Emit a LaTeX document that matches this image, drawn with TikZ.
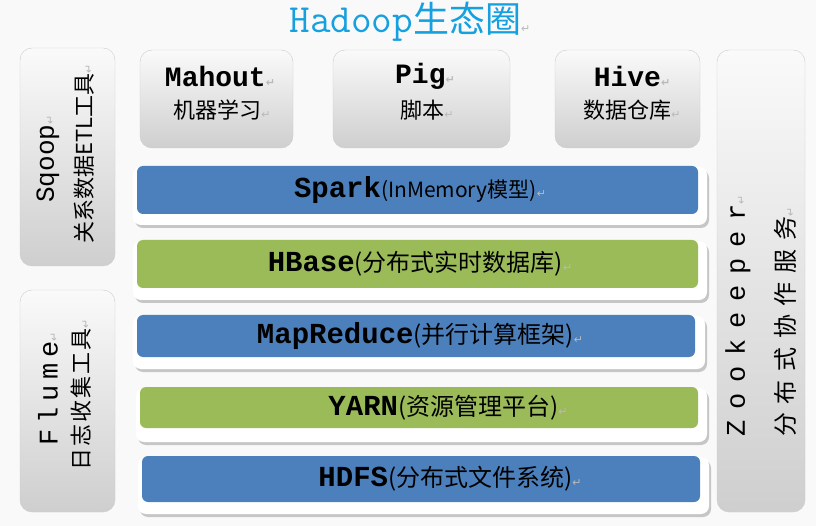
\documentclass[tikz,border=0pt]{standalone}
\usepackage{fontspec}
\usepackage{tikz}
\usepackage{xcolor}
\setmonofont{Liberation Mono}
\newfontfamily\cjk{Noto Sans CJK SC}
\newfontfamily\symb{DejaVu Sans}
\newfontfamily\lmmono{Latin Modern Mono}
\definecolor{barblue}{RGB}{76,128,189}
\definecolor{bargreen}{RGB}{155,187,89}
\definecolor{titlecyan}{RGB}{22,160,224}
\newcommand{\fs}[1]{\fontsize{#1}{#1}\selectfont}
\newcommand{\pmark}{{\symb\fs{11}\color{gray!55}↵}}

\begin{document}
\begin{tikzpicture}[x=1pt,y=-1pt,inner sep=0pt,
  boxname/.style={font=\ttfamily\bfseries\fs{28}},
  boxtext/.style={font=\cjk\fs{22}}]
\useasboundingbox (0,0) rectangle (816,526);
\fill[gray!5] (0,0) rectangle (816,526);
% title
\node[text=titlecyan] (title) at (410,22) {{\lmmono\fs{40}Hadoop}{\cjk\fs{36}生态圈}\pmark};
% left tools
\shade[top color=gray!4, bottom color=gray!38, rounded corners=12pt] (20,48) rectangle (115,266);
\draw[gray!40, rounded corners=12pt] (20,48) rectangle (115,266);
\node[rotate=90] (sqoopname) at (48,159) {{\ttfamily\fs{26}Sqoop}\pmark};
\node[rotate=90] (sqooptext) at (84,154) {{\cjk\fs{22}关系数据ETL工具}\pmark};
\shade[top color=gray!4, bottom color=gray!38, rounded corners=12pt] (20,290) rectangle (115,512);
\draw[gray!40, rounded corners=12pt] (20,290) rectangle (115,512);
\node[rotate=90] (flumename) at (48,389) {{\ttfamily\fs{27}\addfontfeature{LetterSpace=22}Flume}\pmark};
\node[rotate=90] (flumetext) at (81,395) {{\cjk\fs{22}\addfontfeature{LetterSpace=9}日志收集工具}\pmark};
% top tools
\shade[top color=gray!4, bottom color=gray!38, rounded corners=12pt] (140,50) rectangle (293,148);
\draw[gray!40, rounded corners=12pt] (140,50) rectangle (293,148);
\node[boxname] (mahoutname) at (220,76) {Mahout\pmark};
\node[boxtext] (mahouttext) at (222,110) {机器学习\pmark};
\shade[top color=gray!4, bottom color=gray!38, rounded corners=12pt] (333,50) rectangle (510,148);
\draw[gray!40, rounded corners=12pt] (333,50) rectangle (510,148);
\node[boxname] (pigname) at (425,76) {Pig\pmark};
\node[boxtext] (pigtext) at (427,110) {脚本\pmark};
\shade[top color=gray!4, bottom color=gray!38, rounded corners=12pt] (555,50) rectangle (700,148);
\draw[gray!40, rounded corners=12pt] (555,50) rectangle (700,148);
\node[boxname] (hivename) at (632,76) {Hive\pmark};
\node[boxtext] (hivetext) at (632,110) {数据仓库\pmark};
% right tool
\shade[top color=gray!4, bottom color=gray!38, rounded corners=12pt] (717,50) rectangle (805,512);
\draw[gray!40, rounded corners=12pt] (717,50) rectangle (805,512);
\node[rotate=90,anchor=west] (zkname) at (738,437) {{\ttfamily\fs{27}\addfontfeature{LetterSpace=40}Zookeeper}\pmark};
\node[rotate=90,anchor=west] (zktext) at (785,437) {{\cjk\fs{24}\addfontfeature{LetterSpace=36}分布式协作服务}\pmark};
% layers
\fill[gray!45, rounded corners=8pt] (135,170) rectangle (709,228);
\fill[white, rounded corners=8pt] (133,167) rectangle (707,225);
\fill[barblue, rounded corners=6pt] (137,166) rectangle (698,214);
\node (spark) at (420,190) {{\ttfamily\bfseries\fs{29}Spark}{\cjk\fs{21}(InMemory模型)}\pmark};
\fill[gray!45, rounded corners=8pt] (135,244) rectangle (709,303);
\fill[white, rounded corners=8pt] (133,241) rectangle (707,300);
\fill[bargreen, rounded corners=6pt] (137,240) rectangle (698,288);
\node (hbase) at (420,264) {{\ttfamily\bfseries\fs{29}HBase}{\cjk\fs{24}(分布式实时数据库)}\pmark};
\fill[gray!45, rounded corners=8pt] (135,319) rectangle (707,372);
\fill[white, rounded corners=8pt] (133,316) rectangle (705,369);
\fill[barblue, rounded corners=6pt] (137,315) rectangle (695,357);
\node (mapreduce) at (420,336) {{\ttfamily\bfseries\fs{29}MapReduce}{\cjk\fs{24}(并行计算框架)}\pmark};
\fill[gray!45, rounded corners=8pt] (138,391) rectangle (709,445);
\fill[white, rounded corners=8pt] (136,388) rectangle (707,442);
\fill[bargreen, rounded corners=6pt] (140,387) rectangle (698,428);
\node (yarn) at (448,408) {{\ttfamily\bfseries\fs{29}YARN}{\cjk\fs{24}(资源管理平台)}\pmark};
\fill[gray!45, rounded corners=8pt] (140,460) rectangle (711,517);
\fill[white, rounded corners=8pt] (138,457) rectangle (709,514);
\fill[barblue, rounded corners=6pt] (142,456) rectangle (700,502);
\node (hdfs) at (450,479) {{\ttfamily\bfseries\fs{29}HDFS}{\cjk\fs{24}(分布式文件系统)}\pmark};
\end{tikzpicture}
\end{document}
